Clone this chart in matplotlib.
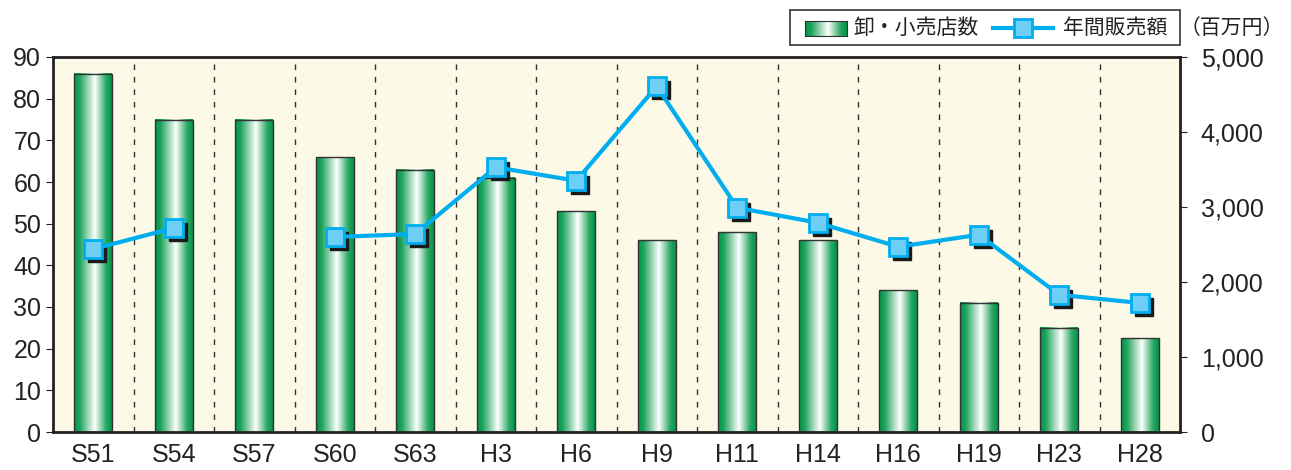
import numpy as np
import matplotlib.pyplot as plt
import matplotlib.transforms as mtransforms
from matplotlib.colors import LinearSegmentedColormap
from matplotlib.patches import Rectangle
from matplotlib.lines import Line2D

plt.rcParams['font.family'] = ['Liberation Sans Narrow', 'Liberation Sans', 'Noto Sans CJK JP']
jp = ['Noto Sans CJK JP', 'DejaVu Sans']

# data
years = ['S51', 'S54', 'S57', 'S60', 'S63', 'H3', 'H6', 'H9', 'H11', 'H14', 'H16', 'H19', 'H23', 'H28']
stores = [86, 75, 75, 66, 63, 61, 53, 46, 48, 46, 34, 31, 25, 22.5]
sales = [2440, 2720, np.nan, 2600, 2640, 3530, 3350, 4610, 2990, 2790, 2470, 2630, 1830, 1720]

W, H = 1291, 470
fig = plt.figure(figsize=(W / 100, H / 100), dpi=100)
ax = fig.add_axes([53 / W, 1 - 432 / H, (1180 - 53) / W, (432 - 57) / H])
ax.set_facecolor('#fdf9e7')

green = LinearSegmentedColormap.from_list('bar', [
    (0.0, '#00934a'), (0.15, '#1fa45c'), (0.55, '#ffffff'), (0.85, '#2aa862'), (1.0, '#00934a')])
grad = np.linspace(0, 1, 256).reshape(1, -1)

x = np.arange(len(years))
bw = 0.47
bars = ax.bar(x, stores, width=bw, color='none', edgecolor='#333333', linewidth=1.0, zorder=3)
for rect in bars:
    bx, by = rect.get_x(), rect.get_y()
    ax.imshow(grad, cmap=green, aspect='auto', zorder=2,
              extent=[bx, bx + rect.get_width(), by, by + rect.get_height()])

for i in range(len(years) - 1):
    ax.axvline(i + 0.5, color='#333333', lw=1.0, ls=(0, (4, 5)), zorder=1)

ax.set_xlim(-0.5, len(years) - 0.5)
ax.set_ylim(0, 90)
ax.set_yticks(range(0, 91, 10))
ax.set_xticks(x)
ax.set_xticklabels(years)
ax.tick_params(axis='both', labelsize=18, colors='#222222', length=5)
ax.tick_params(axis='x', length=0, pad=8)
for s in ax.spines.values():
    s.set_linewidth(2)
    s.set_color('#222222')

ax2 = ax.twinx()
ax2.set_ylim(0, 5000)
ax2.set_yticks(range(0, 5001, 1000))
ax2.set_yticklabels(['0', '1,000', '2,000', '3,000', '4,000', '5,000'])
ax2.tick_params(axis='y', labelsize=18, colors='#222222', length=5, pad=10)
for s in ax2.spines.values():
    s.set_visible(False)

shadow = mtransforms.offset_copy(ax2.transData, fig=fig, x=3, y=-3, units='points')
ax2.plot(x, sales, ls='none', marker='s', ms=13, color='#1a1a1a', transform=shadow, zorder=4)
ax2.plot(x, sales, color='#00aeef', lw=3, marker='s', ms=13,
         markerfacecolor='#6dcff6', markeredgecolor='#00aeef', markeredgewidth=2, zorder=5)

# legend drawn by hand
fig.patches.append(Rectangle((790 / W, 1 - 45 / H), (1180 - 790) / W, 35 / H,
                             transform=fig.transFigure, fill=False, edgecolor='#333333', lw=1.2))
lax = fig.add_axes([805 / W, 1 - 36 / H, 42 / W, 15 / H])
lax.imshow(grad, cmap=green, aspect='auto')
lax.set_xticks([])
lax.set_yticks([])
for s in lax.spines.values():
    s.set_color('#333333')
fig.text(853 / W, 1 - 28 / H, '卸・小売店数', fontsize=15, va='center', color='#222222', family=jp)
fig.lines.append(Line2D([993 / W, 1053 / W], [1 - 28 / H, 1 - 28 / H], transform=fig.transFigure,
                        color='#00aeef', lw=3))
fig.lines.append(Line2D([1023 / W], [1 - 28 / H], transform=fig.transFigure, marker='s', ms=13,
                        markerfacecolor='#6dcff6', markeredgecolor='#00aeef', markeredgewidth=2))
fig.text(1063 / W, 1 - 28 / H, '年間販売額', fontsize=15, va='center', color='#222222', family=jp)
fig.text(1180 / W, 1 - 28 / H, '（百万円）', fontsize=15, va='center', color='#222222', family=jp)

fig.savefig('out.png', dpi=100)
